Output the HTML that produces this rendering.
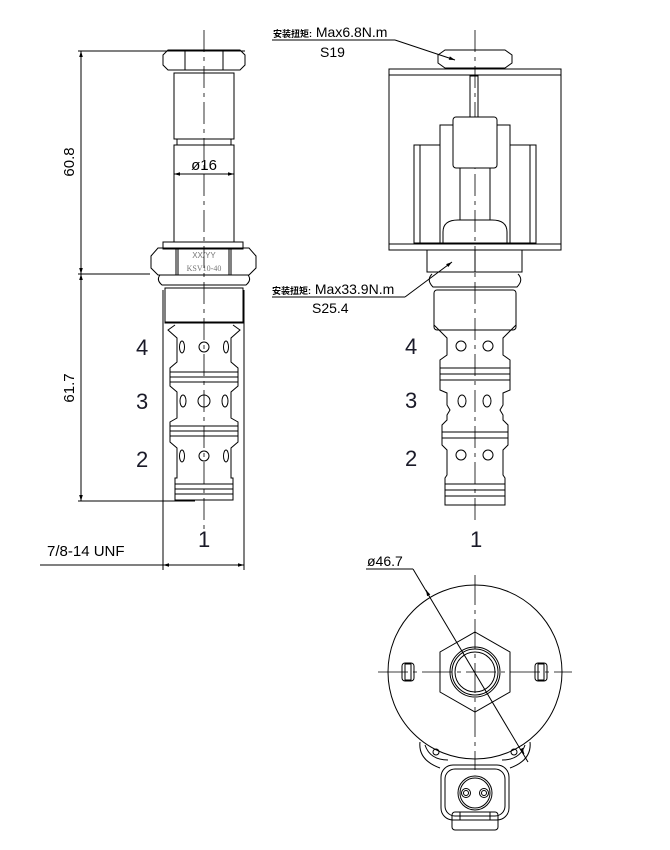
<!DOCTYPE html>
<html><head><meta charset="utf-8"><style>
html,body{margin:0;padding:0;background:#fff;}
svg{display:block;}
text{font-family:"Liberation Sans","Noto Sans CJK SC",sans-serif;fill:#000;}
</style></head><body>
<svg width="670" height="850" viewBox="0 0 670 850" xmlns="http://www.w3.org/2000/svg">
<defs>
<marker id="a" viewBox="0 0 10 10" refX="10" refY="5" markerWidth="8" markerHeight="6" orient="auto-start-reverse"><path d="M0,2 L10,5 L0,8 z" fill="#000"/></marker>
</defs>
<g fill="none" stroke="#000" stroke-width="1">
<!-- LEFT VIEW -->
<line x1="204" y1="30" x2="204" y2="545" stroke-dasharray="22,5,4,5" stroke-width="0.8"/>
<path d="M163,55 L168,50 L240,50 L245,55 L245,65 L240,70 L168,70 L163,65 Z"/>
<line x1="185" y1="50" x2="185" y2="70"/><line x1="223" y1="50" x2="223" y2="70"/>
<rect x="174" y="73" width="60" height="66"/>
<rect x="177" y="139" width="54" height="6"/>
<rect x="174" y="145" width="60" height="97"/>
<rect x="163" y="242" width="80" height="7"/>
<path d="M151,256 L158,248 L249,248 L256,256 L256,268 L249,275 L158,275 L151,268 Z"/>
<line x1="176" y1="248" x2="176" y2="275"/><line x1="231" y1="248" x2="231" y2="275"/>
<line x1="178" y1="248" x2="178" y2="275"/><line x1="229" y1="248" x2="229" y2="275"/>
<path d="M160,275 Q156,280 162,285 L246,285 Q252,280 248,275"/>
<rect x="165" y="288" width="78" height="35"/>
<line x1="165" y1="322" x2="243" y2="322"/>
<!-- ports body left -->
<path d="M175,325 L168,330 L177,338 L177,362 L170,368 L170,386 L177,392 L177,418 L170,422 L170,442 L177,448 L177,478 L175,478 L175,500 L233,500 L233,478 L231,478 L231,448 L238,442 L238,422 L231,418 L231,392 L238,386 L238,368 L231,362 L231,338 L240,330 L233,325"/>
<line x1="170" y1="372" x2="238" y2="372"/><line x1="170" y1="377" x2="238" y2="377"/><line x1="170" y1="382" x2="238" y2="382"/>
<line x1="170" y1="426" x2="238" y2="426"/><line x1="170" y1="431" x2="238" y2="431"/><line x1="170" y1="436" x2="238" y2="436"/>
<line x1="175" y1="484" x2="233" y2="484"/><line x1="175" y1="489" x2="233" y2="489"/><line x1="175" y1="494" x2="233" y2="494"/>
<ellipse cx="182" cy="347" rx="2.5" ry="6"/><ellipse cx="226" cy="347" rx="2.5" ry="6"/><circle cx="204" cy="347" r="5"/>
<ellipse cx="183" cy="401" rx="3" ry="6"/><ellipse cx="225" cy="401" rx="3" ry="6"/><circle cx="204" cy="401" r="6"/>
<ellipse cx="182" cy="456" rx="2.5" ry="6"/><ellipse cx="226" cy="456" rx="2.5" ry="6"/><circle cx="204" cy="456" r="5"/>
<!-- left dims -->
<line x1="78" y1="51" x2="245" y2="51"/>
<line x1="78" y1="274" x2="150" y2="274"/>
<line x1="78" y1="501" x2="195" y2="501"/>
<line x1="81" y1="51" x2="81" y2="274" marker-start="url(#a)" marker-end="url(#a)"/>
<line x1="81" y1="274" x2="81" y2="501" marker-start="url(#a)" marker-end="url(#a)"/>
<line x1="174" y1="174" x2="234" y2="174" marker-start="url(#a)" marker-end="url(#a)"/>
<line x1="163" y1="290" x2="163" y2="570"/><line x1="244" y1="290" x2="244" y2="570"/>
<line x1="40" y1="565" x2="163" y2="565"/>
<line x1="163" y1="565" x2="244" y2="565" marker-start="url(#a)" marker-end="url(#a)"/>
<line x1="44" y1="563" x2="156" y2="563" stroke-width="0"/>

<!-- RIGHT VIEW -->
<line x1="475" y1="30" x2="475" y2="522" stroke-dasharray="22,5,4,5" stroke-width="0.8"/>
<path d="M438,55 L445,50 L505,50 L512,55 L512,63 L505,68 L445,68 L438,63 Z"/>
<rect x="389" y="69" width="172" height="181"/>
<line x1="389" y1="75" x2="561" y2="75"/><line x1="389" y1="244" x2="561" y2="244"/>
<rect x="470" y="76" width="8" height="41"/>
<rect x="440" y="125" width="70" height="118"/>
<rect x="453" y="117" width="44" height="51" rx="3" fill="#fff"/>
<line x1="460" y1="168" x2="460" y2="220"/><line x1="490" y1="168" x2="490" y2="220"/>
<path d="M443,243 L443,232 Q443,220 458,220 L492,220 Q507,220 507,232 L507,243"/>
<rect x="414" y="145" width="26" height="98"/><line x1="420" y1="145" x2="420" y2="243"/>
<rect x="510" y="145" width="26" height="98"/><line x1="530" y1="145" x2="530" y2="243"/>
<path d="M427,250 L427,272 L522,272 L522,250"/><line x1="475" y1="250" x2="475" y2="272"/>
<path d="M432,274 Q426,280 433,287 L517,287 Q524,280 518,274"/>
<rect x="434" y="290" width="82" height="40" rx="3"/>
<path d="M434,325 L447,338 L447,355 L440,360 L440,390 L447,393 L447,405 L450,410 L447,415 L447,420 L442,425 L442,445 L447,450 L447,475 L445,478 L445,505 L505,505 L505,478 L503,475 L503,450 L508,445 L508,425 L503,420 L503,415 L500,410 L503,405 L503,393 L510,390 L510,360 L503,355 L503,338 L516,325"/>
<line x1="440" y1="368" x2="510" y2="368"/><line x1="440" y1="374" x2="510" y2="374"/><line x1="440" y1="380" x2="510" y2="380"/>
<line x1="442" y1="432" x2="508" y2="432"/><line x1="442" y1="438" x2="508" y2="438"/>
<line x1="445" y1="484" x2="505" y2="484"/><line x1="445" y1="490" x2="505" y2="490"/><line x1="445" y1="496" x2="505" y2="496"/>
<circle cx="461" cy="346" r="5"/><circle cx="488" cy="346" r="5"/>
<ellipse cx="462" cy="401" rx="4" ry="6"/><ellipse cx="487" cy="401" rx="4" ry="6"/>
<circle cx="461" cy="455" r="5"/><circle cx="488" cy="455" r="5"/>
<!-- torque leaders -->
<line x1="272" y1="40" x2="395" y2="40"/><line x1="395" y1="40" x2="455" y2="60" marker-end="url(#a)"/>
<line x1="272" y1="297" x2="405" y2="297"/><line x1="405" y1="297" x2="452" y2="262" marker-end="url(#a)"/>

<!-- BOTTOM VIEW -->
<circle cx="475" cy="672" r="87"/>
<line x1="378" y1="672" x2="572" y2="672" stroke-dasharray="30,5,4,5" stroke-width="0.8"/>
<line x1="475" y1="575" x2="475" y2="770" stroke-dasharray="30,5,4,5" stroke-width="0.8"/>
<polygon points="475,632 510,652 510,692 475,712 440,692 440,652"/>
<circle cx="475" cy="672" r="25"/><circle cx="475" cy="672" r="23"/><circle cx="475" cy="672" r="20"/>
<rect x="402" y="663" width="12" height="18" rx="3"/><rect x="405" y="664" width="6" height="16"/>
<rect x="535" y="663" width="12" height="18" rx="3"/><rect x="538" y="664" width="6" height="16"/>
<line x1="366" y1="569" x2="413" y2="569"/>
<line x1="413" y1="569" x2="528" y2="762"/>
<line x1="428" y1="594" x2="426" y2="590" marker-end="url(#a)"/>
<line x1="522" y1="750" x2="524" y2="754" marker-end="url(#a)"/>
<!-- connector -->
<path d="M420,742 Q418,760 440,768 M530,742 Q532,760 510,768"/>
<path d="M425,745 Q430,760 448,760 M525,745 Q520,760 502,760"/>
<circle cx="436" cy="752" r="3"/><circle cx="514" cy="752" r="3"/>
<rect x="441" y="765" width="68" height="55" rx="12"/>
<rect x="445" y="769" width="60" height="47" rx="10"/>
<circle cx="475" cy="793" r="17"/><circle cx="475" cy="793" r="15"/>
<circle cx="466" cy="793" r="4.5"/><circle cx="466" cy="793" r="2.5"/>
<circle cx="484" cy="793" r="4.5"/><circle cx="484" cy="793" r="2.5"/>
<rect x="452" y="812" width="46" height="18" rx="3"/>
<rect x="460" y="812" width="30" height="8"/>
</g>
<!-- texts -->
<text x="74" y="162" font-size="15" transform="rotate(-90 74 162)" text-anchor="middle">60.8</text>
<text x="74" y="388" font-size="15" transform="rotate(-90 74 388)" text-anchor="middle">61.7</text>
<text x="204" y="170" font-size="15" text-anchor="middle">ø16</text>
<text x="204" y="258" font-size="8" font-family="Liberation Serif" text-anchor="middle" fill="#666" style="fill:#777">XX/YY</text>
<text x="204" y="271" font-size="8" text-anchor="middle" style="fill:#777;font-family:'Liberation Serif',serif">KSV10-40</text>
<text x="47" y="556" font-size="15">7/8-14 UNF</text>
<g font-size="22" style="fill:#1a1a28">
<text x="136" y="355" style="fill:#1a1a28">4</text><text x="136" y="409" style="fill:#1a1a28">3</text><text x="136" y="467" style="fill:#1a1a28">2</text>
<text x="198" y="547" style="fill:#1a1a28">1</text>
<text x="405" y="354" style="fill:#1a1a28">4</text><text x="405" y="408" style="fill:#1a1a28">3</text><text x="405" y="466" style="fill:#1a1a28">2</text>
<text x="470" y="547" style="fill:#1a1a28">1</text>
</g>
<text x="273" y="37" font-size="14"><tspan font-size="9" font-weight="bold">安装扭矩:</tspan> Max6.8N.m</text>
<text x="320" y="57" font-size="14">S19</text>
<text x="272" y="294" font-size="14"><tspan font-size="9" font-weight="bold">安装扭矩:</tspan> Max33.9N.m</text>
<text x="312" y="313" font-size="14">S25.4</text>
<text x="367" y="566" font-size="14">ø46.7</text>
</svg>
</body></html>
